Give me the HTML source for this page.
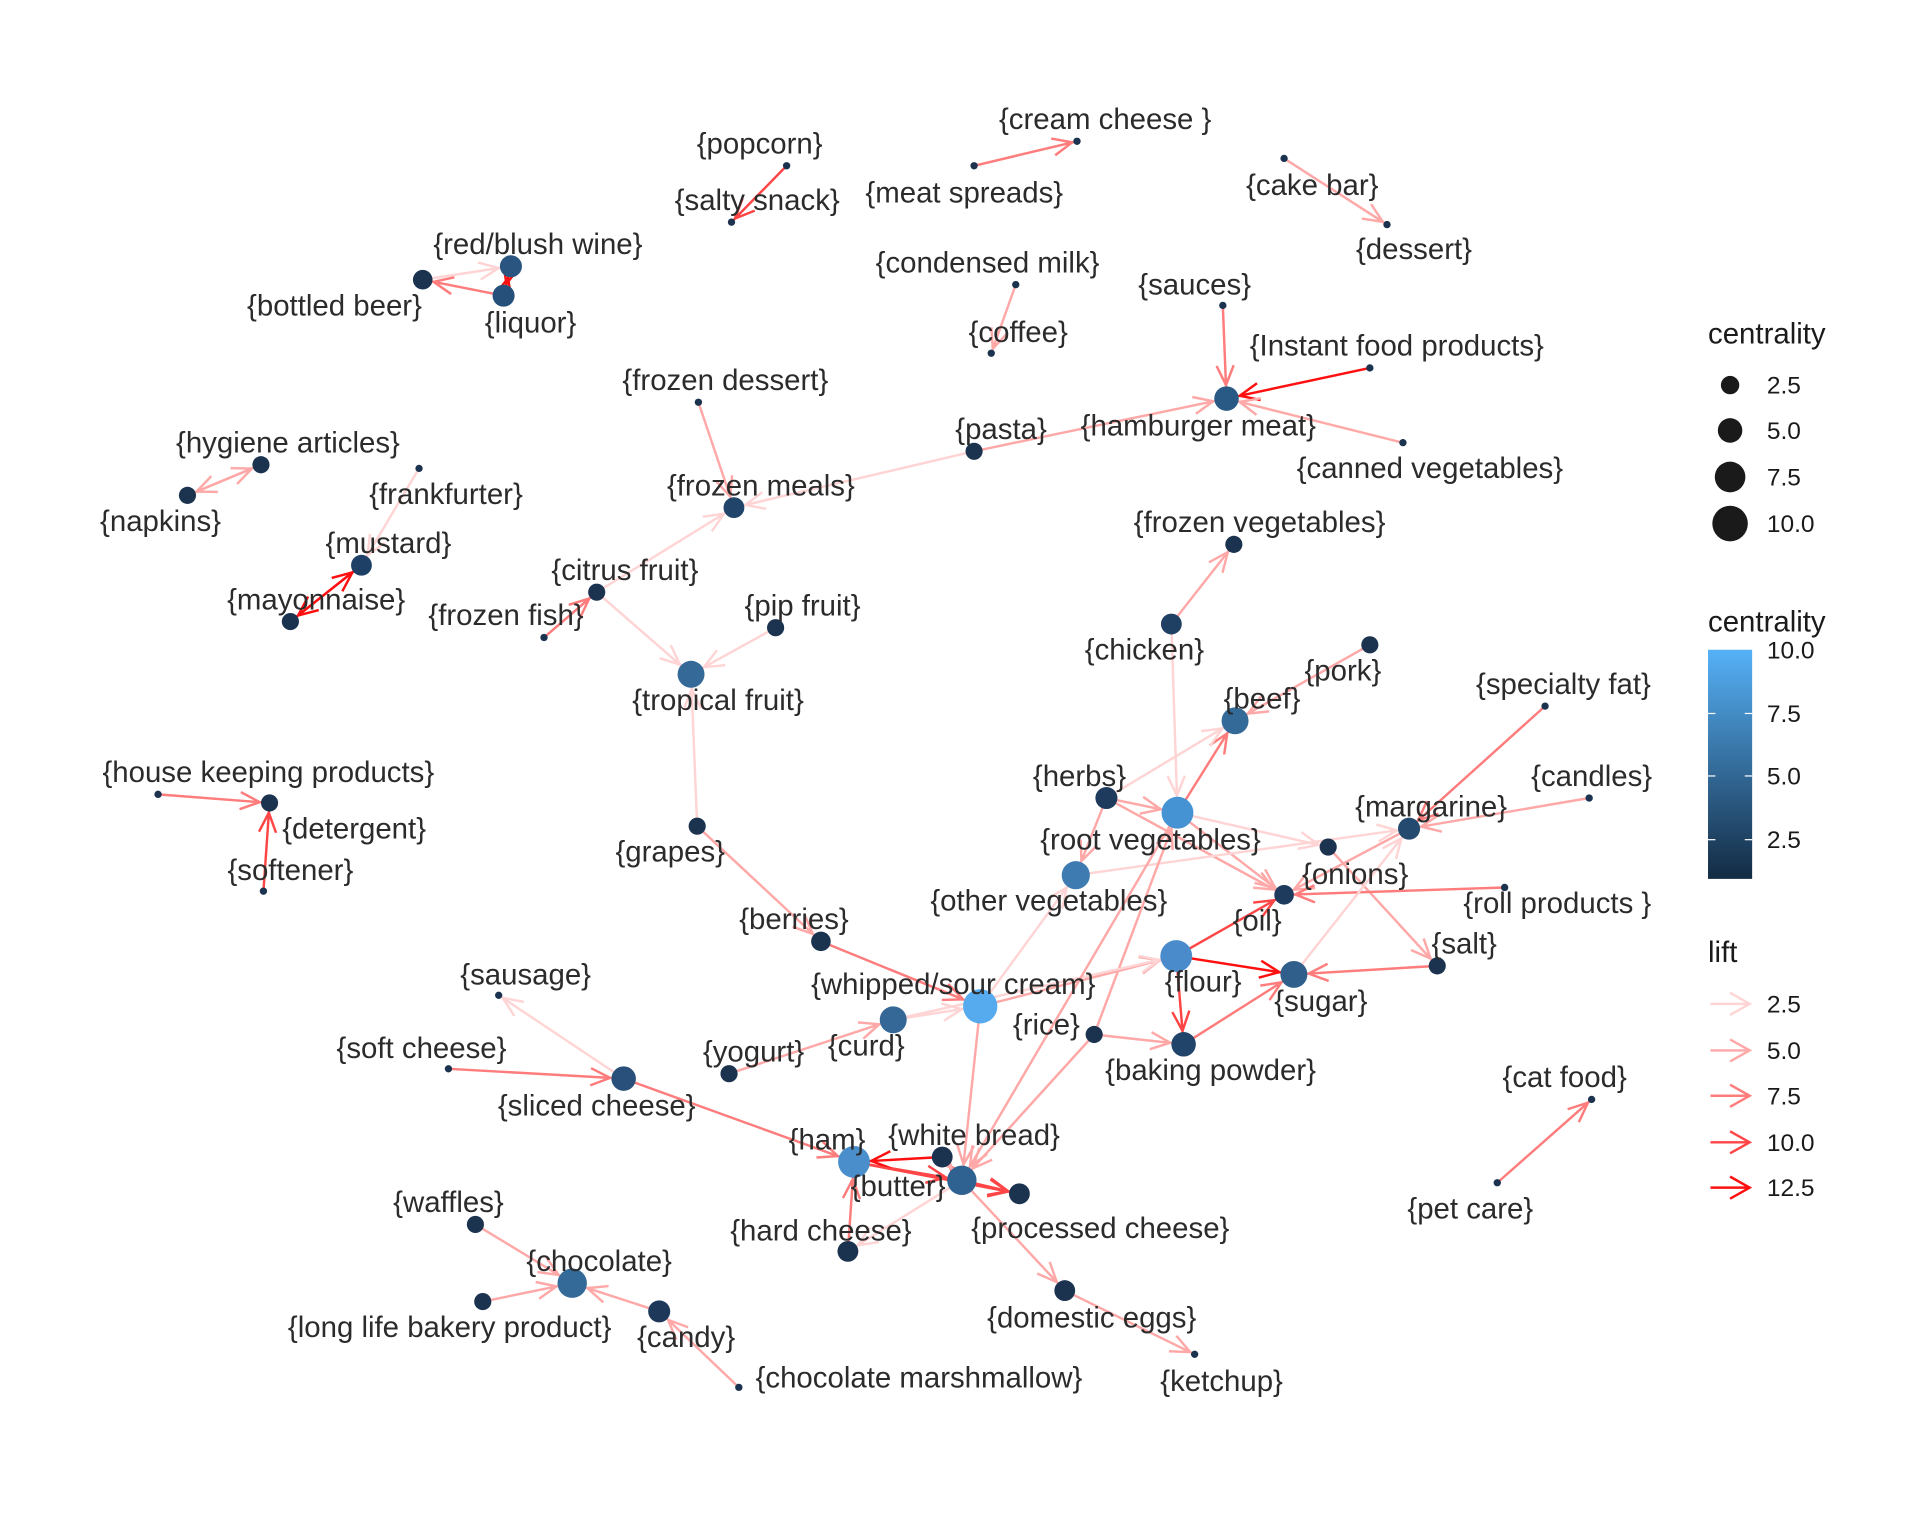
<!DOCTYPE html>
<html><head><meta charset="utf-8"><style>
html,body{margin:0;padding:0;background:#fff;}
svg{display:block;}
text{font-family:"Liberation Sans",sans-serif;}
</style></head><body>
<svg id="s" width="1920" height="1536" viewBox="0 0 1567 1253" xmlns="http://www.w3.org/2000/svg">
<defs><linearGradient id="cb" x1="0" y1="1" x2="0" y2="0"><stop offset="0" stop-color="#132B43"/><stop offset="1" stop-color="#56B1F7"/></linearGradient></defs>
<g id="E"></g><g id="N"></g><g id="L" font-size="24" fill="#2b2b2b" text-anchor="middle"></g>
<g font-size="20" fill="#1a1a1a">
<text x="1394" y="280" font-size="24">centrality</text>
<circle cx="1412" cy="314" r="7.5"/><text x="1442" y="321">2.5</text>
<circle cx="1412" cy="351" r="10"/><text x="1442" y="358">5.0</text>
<circle cx="1412" cy="389" r="12.5"/><text x="1442" y="396">7.5</text>
<circle cx="1412" cy="427" r="14.5"/><text x="1442" y="434">10.0</text>
<text x="1394" y="515" font-size="24">centrality</text>
<rect x="1394" y="530" width="36" height="187" fill="url(#cb)"/>
<g stroke="#fff" stroke-width="1"><line x1="1394" y1="582" x2="1400" y2="582"/><line x1="1424" y1="582" x2="1430" y2="582"/><line x1="1394" y1="633" x2="1400" y2="633"/><line x1="1424" y1="633" x2="1430" y2="633"/><line x1="1394" y1="685" x2="1400" y2="685"/><line x1="1424" y1="685" x2="1430" y2="685"/></g>
<text x="1442" y="537">10.0</text><text x="1442" y="589">7.5</text><text x="1442" y="640">5.0</text><text x="1442" y="692">2.5</text>
<text x="1394" y="785" font-size="24">lift</text>
<g fill="none" stroke-width="2">
<path d="M1396 819H1428M1412 810L1428 819L1412 828" stroke="#ffd4d4"/>
<path d="M1396 857H1428M1412 848L1428 857L1412 866" stroke="#ffa8a8"/>
<path d="M1396 894H1428M1412 885L1428 894L1412 903" stroke="#ff7c7c"/>
<path d="M1396 932H1428M1412 923L1428 932L1412 941" stroke="#ff4545"/>
<path d="M1396 969H1428M1412 960L1428 969L1412 978" stroke="#ff1010"/>
</g>
<text x="1442" y="826">2.5</text><text x="1442" y="864">5.0</text><text x="1442" y="901">7.5</text><text x="1442" y="939">10.0</text><text x="1442" y="976">12.5</text>
</g>
</svg>
<script>
var D="#1c3350";
var n={
pop:[642,135,3,D,"{popcorn}",620,117],
salty:[597,181,3,D,"{salty snack}",618,163],
cream:[879,115,3,D,"{cream cheese }",902,97],
meat:[795,135,3,D,"{meat spreads}",787,157],
cake:[1048,129,3,D,"{cake bar}",1071,151],
des:[1132,183,3,D,"{dessert}",1154,203],
red:[417,217,9,"#2a5580","{red/blush wine}",439,199],
liq:[411,241,9,"#26507a","{liquor}",433,263],
beer:[345,228,8,D,"{bottled beer}",273,249],
cond:[829,232,3,D,"{condensed milk}",806,214],
cof:[809,288,3,D,"{coffee}",831,271],
sau:[998,249,3,D,"{sauces}",975,232],
inst:[1118,300,3,D,"{Instant food products}",1140,282],
ham2:[1001,325,10,"#285a85","{hamburger meat}",978,347],
can:[1145,361,3,D,"{canned vegetables}",1167,382],
fdes:[570,328,3,D,"{frozen dessert}",592,310],
pasta:[795,368,7,D,"{pasta}",817,350],
fmeal:[599,414,8.5,"#21446a","{frozen meals}",621,396],
hyg:[213,379,7,D,"{hygiene articles}",235,361],
nap:[153,404,7,D,"{napkins}",131,425],
frank:[342,382,3,D,"{frankfurter}",364,403],
must:[295,461,8.5,"#1f4066","{mustard}",317,443],
mayo:[237,507,7,D,"{mayonnaise}",258,489],
cit:[487,483,7,D,"{citrus fruit}",510,465],
ffish:[444,520,3,D,"{frozen fish}",413,502],
pip:[633,512,7,D,"{pip fruit}",655,494],
trop:[564,550,11,"#356998","{tropical fruit}",586,571],
fveg:[1007,444,7,D,"{frozen vegetables}",1028,426],
chick:[956,509,8.5,"#1f3f63","{chicken}",934,530],
pork:[1118,526,7,D,"{pork}",1096,547],
beef:[1008,588,11,"#336a98","{beef}",1030,570],
spec:[1261,576,3,D,"{specialty fat}",1276,558],
herbs:[903,651,9,"#1e3a5c","{herbs}",881,633],
root:[961,663,13,"#4593d2","{root vegetables}",939,685],
cand:[1297,651,3,D,"{candles}",1299,633],
marg:[1150,676,9,"#244a70","{margarine}",1168,658],
on:[1084,691,7,D,"{onions}",1106,713],
oth:[878,714,11.5,"#3d7bb0","{other vegetables}",856,735],
oil:[1048,730,8,"#1e3a5c","{oil}",1026,751],
roll:[1228,724,3,D,"{roll products }",1271,737],
hk:[129,648,3,D,"{house keeping products}",219,630],
det:[220,655,7,D,"{detergent}",289,676],
soft:[215,727,3,D,"{softener}",237,710],
grap:[569,674,7,D,"{grapes}",547,695],
ber:[670,768,8,"#1a334f","{berries}",648,750],
flour:[960,780,13,"#4a8ccb","{flour}",982,801],
sug:[1056,795,11,"#2f5f8a","{sugar}",1078,817],
salt:[1173,788,7,D,"{salt}",1195,770],
saus:[407,812,3,D,"{sausage}",429,795],
whip:[800,821,14,"#56aaee","{whipped/sour cream}",778,803],
curd:[729,832,11,"#356896","{curd}",707,853],
rice:[893,844,7,D,"{rice}",854,836],
bp:[966,852,10,"#21446a","{baking powder}",988,873],
sch:[366,872,3,D,"{soft cheese}",344,855],
yog:[595,876,7,D,"{yogurt}",615,858],
slc:[509,880,10,"#29507a","{sliced cheese}",487,902],
ham:[697,948,13,"#4a8fcc","{ham}",675,930],
wb:[769,944,8.5,D,"{white bread}",795,926],
but:[785,963,12,"#2f6191","{butter}",733,968],
proc:[832,974,8.5,D,"{processed cheese}",898,1002],
cat:[1299,897,3,D,"{cat food}",1277,879],
pet:[1222,965,3,D,"{pet care}",1200,986],
waf:[388,999,7,D,"{waffles}",366,981],
choc:[467,1047,12,"#336a98","{chocolate}",489,1029],
ll:[394,1062,7,D,"{long life bakery product}",367,1083],
candy:[538,1070,9,"#1d3858","{candy}",560,1091],
hc:[692,1021,8.5,D,"{hard cheese}",670,1004],
egg:[869,1053,8.5,D,"{domestic eggs}",891,1075],
ket:[975,1105,3,D,"{ketchup}",997,1127],
cm:[603,1132,3,D,"{chocolate marshmallow}",750,1124]
};
var c={1:"#ffd4d4",2:"#ffa8a8",3:"#ff7c7c",4:"#ff4545",5:"#ff1010"};
var e=[["pop","salty",4],["meat","cream",3],["cake","des",2],["beer","red",1],["liq","beer",3],["red","liq",5],["liq","red",5],
["cond","cof",2],["sau","ham2",3],["inst","ham2",5],["can","ham2",2],["pasta","ham2",2],["fdes","fmeal",2],["pasta","fmeal",1],
["cit","fmeal",1],["ffish","cit",3],["cit","trop",1],["pip","trop",1],["grap","trop",1],["grap","ber",2],["hyg","nap",2],["nap","hyg",2],
["frank","must",1],["mayo","must",5],["must","mayo",5],["hk","det",3],["soft","det",4],["chick","fveg",2],["chick","root",1],
["pork","beef",2],["root","beef",3],["herbs","beef",1],["herbs","root",2],["herbs","oth",2],["herbs","oil",2],["root","on",1],
["root","oil",2],["oth","marg",1],["on","salt",2],["spec","marg",3],["cand","marg",2],["marg","oil",2],["roll","oil",3],["sug","marg",1],
["flour","oil",4],["flour","sug",5],["flour","bp",4],["bp","sug",3],["salt","sug",3],["rice","bp",2],["rice","root",2],["whip","flour",2],
["curd","flour",1],["whip","oth",1],["ber","whip",3],["curd","whip",1],["yog","curd",2],["whip","but",2],["slc","saus",1],["sch","slc",3],
["slc","ham",3],["ham","but",4],["wb","ham",5],["ham","proc",4],["but","wb",3],["wb","but",2],["but","proc",4],["hc","ham",3],["but","hc",1],
["but","egg",2],["egg","ket",2],["root","but",2],["rice","but",2],["waf","choc",2],["ll","choc",2],["candy","choc",2],["cm","candy",2],["pet","cat",3]];
var s="";
e.forEach(function(q){var a=n[q[0]],b=n[q[1]],col=c[q[2]];var dx=b[0]-a[0],dy=b[1]-a[1],L=Math.hypot(dx,dy),ux=dx/L,uy=dy/L;
var tx=b[0]-ux*(b[2]+1),ty=b[1]-uy*(b[2]+1),h=16,w=7;
var p1=[tx-ux*h-uy*w,ty-uy*h+ux*w],p2=[tx-ux*h+uy*w,ty-uy*h-ux*w];
s+='<path d="M'+a[0]+' '+a[1]+'L'+b[0]+' '+b[1]+'M'+p1[0].toFixed(1)+' '+p1[1].toFixed(1)+'L'+tx.toFixed(1)+' '+ty.toFixed(1)+'L'+p2[0].toFixed(1)+' '+p2[1].toFixed(1)+'" stroke="'+col+'" stroke-width="2" fill="none"/>';});
document.getElementById("E").innerHTML=s;
var ns="",ls="";
for(var k in n){var a=n[k];ns+='<circle cx="'+a[0]+'" cy="'+a[1]+'" r="'+a[2]+'" fill="'+a[3]+'"/>';ls+='<text x="'+a[5]+'" y="'+(a[6]+8)+'">'+a[4]+'</text>';}
document.getElementById("N").innerHTML=ns;document.getElementById("L").innerHTML=ls;
</script>
</body></html>
